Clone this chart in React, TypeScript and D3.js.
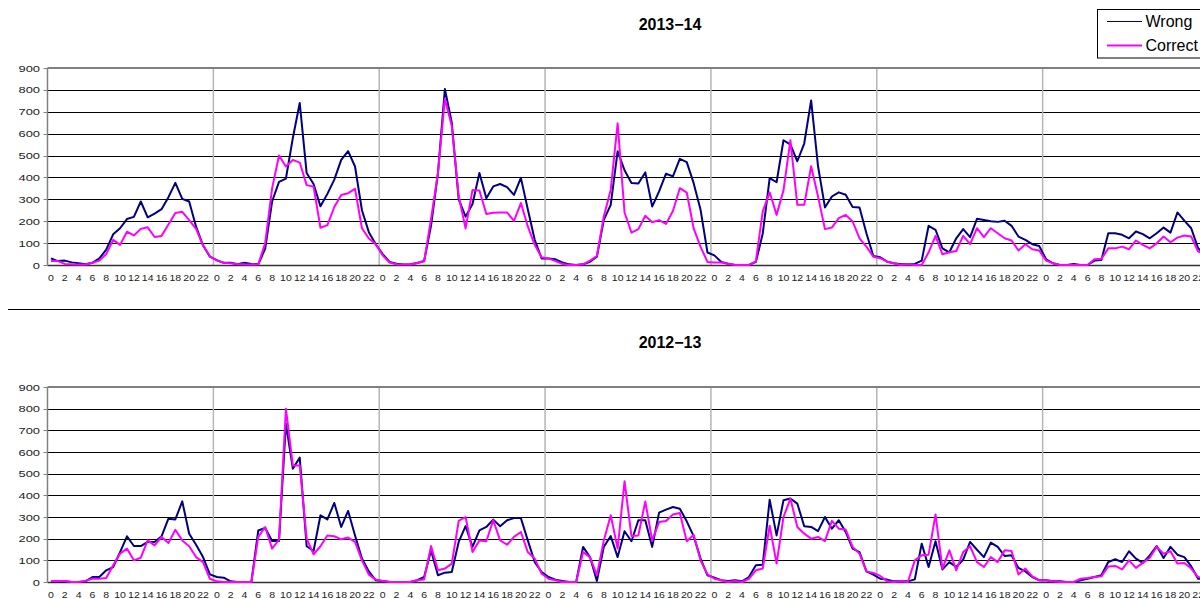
import { useEffect, useRef } from 'react';
import * as d3 from 'd3';

// hourly counts, 7 days x 24 hours
const wrong1314 = [
  30, 18, 20, 12, 8, 3, 10, 30, 70, 140, 168, 210, 220, 290, 218, 235, 255, 310, 375, 302, 290, 175, 90, 38,
  22, 10, 10, 3, 10, 5, 3, 75, 290, 380, 395, 580, 740, 420, 370, 268, 325, 390, 480, 520, 450, 250, 150, 95,
  50, 14, 6, 2, 3, 9, 18, 180, 420, 804, 650, 300, 221, 279, 420, 305, 359, 370, 356, 320, 398, 255, 115, 30,
  30, 26, 12, 3, 0, 3, 15, 38, 206, 275, 520, 433, 375, 372, 423, 267, 336, 417, 405, 485, 470, 374, 252, 57,
  44, 14, 6, 0, 0, 0, 14, 144, 397, 378, 570, 550, 474, 555, 752, 451, 263, 313, 332, 321, 265, 263, 145, 41,
  35, 15, 8, 3, 3, 5, 20, 179, 161, 76, 58, 122, 164, 127, 211, 206, 200, 197, 202, 179, 130, 115, 95, 87,
  26, 8, 0, 0, 5, 0, 0, 20, 23, 145, 145, 138, 122, 153, 141, 122, 145, 171, 148, 240, 203, 168, 76, 50,
];
const correct1314 = [
  18, 18, 5, 3, 2, 2, 10, 20, 50, 115, 92, 152, 135, 165, 172, 128, 133, 185, 238, 243, 205, 165, 90, 40,
  20, 10, 8, 5, 3, 2, 3, 100, 350, 500, 450, 480, 468, 365, 358, 170, 182, 265, 320, 328, 348, 168, 121, 95,
  44, 11, 3, 2, 2, 9, 17, 210, 420, 760, 635, 315, 167, 343, 340, 233, 239, 240, 240, 202, 283, 176, 92, 35,
  30, 18, 5, 0, 0, 3, 20, 41, 222, 344, 647, 240, 148, 164, 225, 195, 205, 188, 247, 351, 331, 167, 83, 14,
  11, 11, 6, 0, 0, 0, 17, 245, 332, 229, 341, 570, 275, 275, 451, 313, 164, 171, 214, 229, 199, 122, 84, 38,
  31, 15, 8, 0, 3, 0, 0, 58, 133, 49, 58, 64, 133, 95, 168, 127, 168, 145, 122, 112, 66, 95, 72, 66,
  20, 8, 0, 0, 0, 0, 0, 26, 28, 76, 76, 84, 72, 112, 92, 76, 99, 130, 104, 125, 135, 130, 61, 50,
];
const wrong1213 = [
  3, 2, 3, 0, 0, 3, 23, 23, 54, 69, 138, 211, 166, 166, 185, 185, 211, 292, 289, 372, 223, 172, 115, 35,
  23, 20, 3, 0, 0, 0, 238, 249, 189, 189, 731, 523, 574, 165, 143, 308, 289, 365, 254, 328, 215, 108, 49, 8,
  5, 0, 0, 0, 0, 8, 23, 146, 31, 43, 46, 185, 258, 162, 238, 254, 288, 257, 285, 295, 295, 192, 92, 46,
  23, 11, 5, 0, 0, 162, 115, 5, 162, 212, 115, 234, 188, 285, 285, 162, 320, 334, 346, 338, 280, 212, 108, 31,
  20, 8, 5, 8, 3, 23, 77, 80, 380, 215, 377, 385, 362, 257, 254, 235, 300, 246, 285, 231, 154, 138, 49, 34,
  15, 11, 3, 3, 3, 12, 177, 69, 188, 58, 92, 69, 103, 185, 149, 115, 182, 162, 120, 123, 65, 49, 23, 8,
  8, 3, 3, 0, 0, 8, 15, 23, 31, 92, 105, 92, 142, 108, 88, 123, 166, 111, 162, 126, 115, 72, 15, 15,
];
const correct1213 = [
  5, 5, 5, 0, 0, 5, 15, 15, 18, 77, 131, 154, 100, 112, 192, 169, 208, 180, 241, 192, 165, 115, 92, 15,
  3, 0, 0, 0, 0, 0, 208, 254, 154, 195, 800, 538, 538, 200, 128, 165, 215, 211, 197, 205, 185, 100, 34, 11,
  5, 0, 0, 0, 0, 8, 12, 166, 54, 62, 85, 282, 300, 138, 192, 188, 285, 192, 172, 208, 231, 138, 108, 38,
  15, 8, 0, 0, 0, 138, 115, 31, 192, 308, 154, 465, 212, 215, 372, 192, 277, 282, 312, 318, 188, 218, 100, 35,
  15, 8, 0, 5, 0, 15, 54, 62, 260, 85, 300, 385, 254, 223, 200, 208, 189, 282, 246, 242, 162, 131, 49, 42,
  28, 3, 0, 3, 0, 100, 123, 126, 312, 62, 146, 54, 138, 165, 92, 69, 115, 92, 146, 143, 35, 62, 26, 8,
  8, 3, 0, 0, 0, 15, 18, 23, 26, 72, 74, 58, 100, 65, 88, 112, 162, 131, 142, 85, 88, 62, 23, 20,
];

const hourTicks = [0, 2, 4, 6, 8, 10, 12, 14, 16, 18, 20, 22];
const yTicks = [0, 100, 200, 300, 400, 500, 600, 700, 800, 900];
const dayCount = 7;
const seriesNames = ['Wrong', 'Correct'];
const seriesColors = ['#000080', '#ff00ff'];

const FONT = '"Liberation Sans", Arial, sans-serif';

const drawPanel = (svg, title, wrong, correct, top, bottom, titleY) => {
  const left = 47.5;
  const plotW = 1161;
  const n = dayCount * 24;
  const x = d3.scaleBand().domain(d3.range(n)).range([left, left + plotW]);
  const cx = (i) => x(i) + x.bandwidth() / 2;
  const y = d3.scaleLinear().domain([0, 900]).range([bottom, top]);

  const g = svg.append('g');

  g.append('text')
    .attr('x', 670)
    .attr('y', titleY)
    .attr('text-anchor', 'middle')
    .attr('font-family', FONT)
    .attr('font-weight', 'bold')
    .attr('font-size', 16)
    .text(title);

  // horizontal grid
  g.selectAll('line.grid')
    .data(yTicks.filter((t) => t > 0 && t < 900))
    .enter()
    .append('line')
    .attr('x1', left)
    .attr('x2', left + plotW)
    .attr('y1', (d) => Math.round(y(d)) + 0.5)
    .attr('y2', (d) => Math.round(y(d)) + 0.5)
    .attr('stroke', '#000')
    .attr('stroke-width', 1);

  // day separators
  g.selectAll('line.day')
    .data(d3.range(1, dayCount))
    .enter()
    .append('line')
    .attr('x1', (d) => x(d * 24))
    .attr('x2', (d) => x(d * 24))
    .attr('y1', y(900))
    .attr('y2', y(0))
    .attr('stroke', '#b4b4b4')
    .attr('stroke-width', 1.5);

  // top border
  g.append('line')
    .attr('x1', left)
    .attr('x2', left + plotW)
    .attr('y1', y(900))
    .attr('y2', y(900))
    .attr('stroke', '#808080')
    .attr('stroke-width', 2);

  // x axis
  g.append('line')
    .attr('x1', left)
    .attr('x2', left + plotW)
    .attr('y1', Math.round(y(0)) + 0.5)
    .attr('y2', Math.round(y(0)) + 0.5)
    .attr('stroke', '#333')
    .attr('stroke-width', 1.5);

  // y axis
  g.append('line')
    .attr('x1', left)
    .attr('x2', left)
    .attr('y1', y(900))
    .attr('y2', y(0))
    .attr('stroke', '#808080')
    .attr('stroke-width', 1.5);
  g.selectAll('line.ytick')
    .data(yTicks)
    .enter()
    .append('line')
    .attr('x1', left - 4)
    .attr('x2', left)
    .attr('y1', (d) => Math.round(y(d)) + 0.5)
    .attr('y2', (d) => Math.round(y(d)) + 0.5)
    .attr('stroke', '#808080');

  g.selectAll('text.ylab')
    .data(yTicks)
    .enter()
    .append('text')
    .attr('transform', (d) => `translate(40,${y(d) + 3.5}) scale(1.36,1)`)
    .attr('text-anchor', 'end')
    .attr('font-family', FONT)
    .attr('font-size', 9.5)
    .attr('fill', '#222')
    .text((d) => d);

  // hour labels
  const labels = [];
  d3.range(dayCount).forEach((day) =>
    hourTicks.forEach((h) => labels.push({ i: day * 24 + h, h }))
  );
  g.selectAll('text.xlab')
    .data(labels)
    .enter()
    .append('text')
    .attr('transform', (d) => `translate(${cx(d.i)},${y(0) + 15.5}) scale(1.12,1)`)
    .attr('text-anchor', 'middle')
    .attr('font-family', FONT)
    .attr('font-size', 9.4)
    .attr('fill', '#222')
    .text((d) => d.h);

  const line = d3
    .line()
    .x((d, i) => cx(i))
    .y((d) => y(d));

  [wrong, correct].forEach((vals, k) => {
    g.append('path')
      .datum(vals)
      .attr('fill', 'none')
      .attr('stroke', seriesColors[k])
      .attr('stroke-width', 2)
      .attr('stroke-linejoin', 'round')
      .attr('d', line);
  });
};

const App = () => {
  const svgRef = useRef(null);

  useEffect(() => {
    const svg = d3.select(svgRef.current);
    svg.selectAll('*').remove();

    drawPanel(svg, '2013\u221214', wrong1314, correct1314, 68, 265, 30);

    // divider between the two charts
    svg
      .append('line')
      .attr('x1', 8)
      .attr('x2', 1200)
      .attr('y1', 309.5)
      .attr('y2', 309.5)
      .attr('stroke', '#000');

    drawPanel(svg, '2012\u221213', wrong1213, correct1213, 387, 582, 348);

    // legend
    const lg = svg.append('g');
    lg.append('rect')
      .attr('x', 1097.5)
      .attr('y', 9.5)
      .attr('width', 120)
      .attr('height', 48.5)
      .attr('fill', '#fff')
      .attr('stroke', '#000');
    seriesNames.forEach((name, k) => {
      const ly = 21.5 + k * 24;
      lg.append('line')
        .attr('x1', 1107)
        .attr('x2', 1142)
        .attr('y1', ly)
        .attr('y2', ly)
        .attr('stroke', seriesColors[k])
        .attr('stroke-width', k === 0 ? 1 : 2);
      lg.append('text')
        .attr('x', 1145.5)
        .attr('y', ly + 5.5)
        .attr('font-family', FONT)
        .attr('font-size', 16)
        .attr('fill', '#000')
        .text(name);
    });
  }, []);

  return (
    <svg
      ref={svgRef}
      width={1200}
      height={599}
      style={{ position: 'absolute', left: 0, top: 0, background: '#fff' }}
    />
  );
};

export default App;
